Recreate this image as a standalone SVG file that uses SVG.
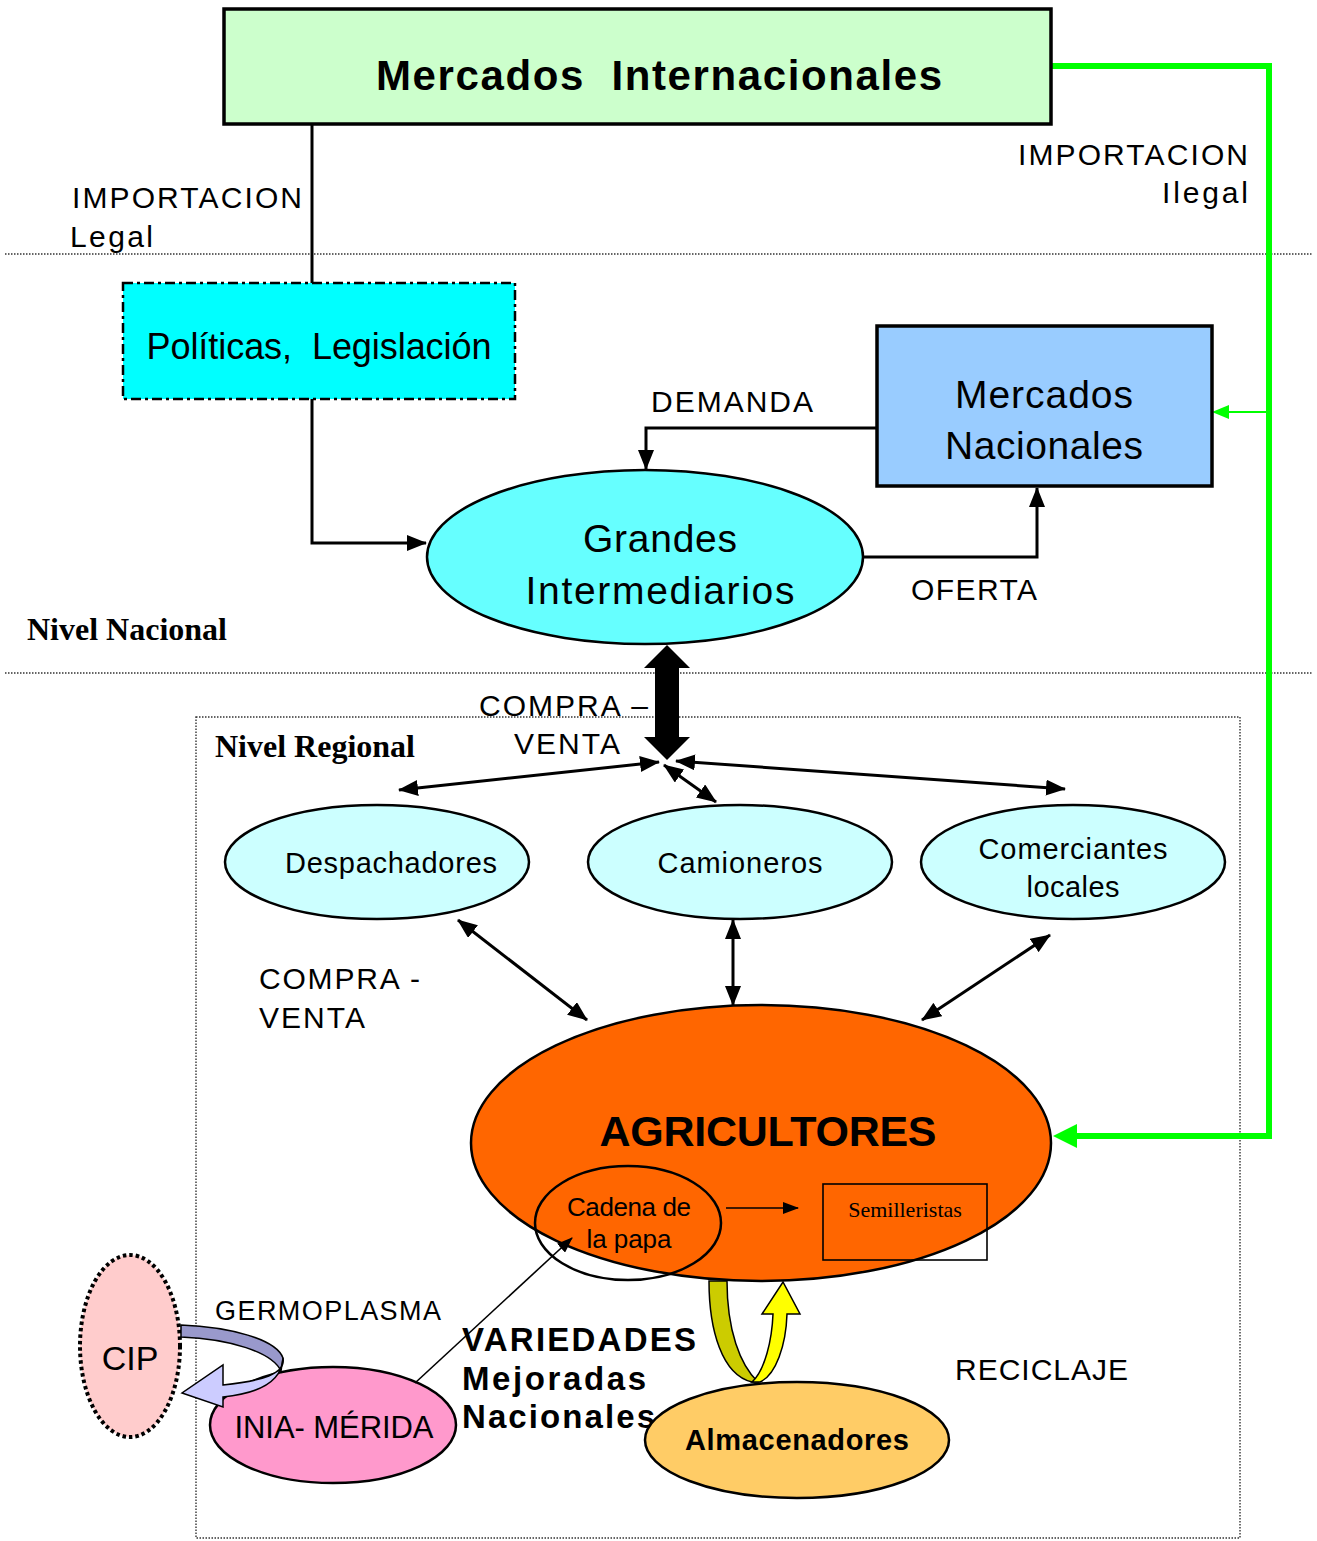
<svg xmlns="http://www.w3.org/2000/svg" width="1317" height="1541" viewBox="0 0 1317 1541">
  <style>
    .sans { font-family: "Liberation Sans", Arial, sans-serif; fill: #000; }
    .bold { font-weight: bold; }
    .serif { font-family: "Liberation Serif", "Times New Roman", serif; font-weight: bold; fill: #000; }
    .mid { text-anchor: middle; }
    .end { text-anchor: end; }
    .line { fill: none; stroke: #000; stroke-width: 3; }
    .thin { fill: none; stroke: #000; stroke-width: 1.6; }
    .node { stroke: #000; stroke-width: 2.5; }
    .dots { fill: none; stroke: #333; stroke-width: 1.4; stroke-dasharray: 1.5 1.5; }
  </style>
  <defs>
    <marker id="ah" markerUnits="userSpaceOnUse" markerWidth="20" markerHeight="16" viewBox="0 0 20 16" refX="19" refY="8" orient="auto-start-reverse">
      <path d="M0,0 L20,8 L0,16 Z" fill="#000"/>
    </marker>
    <marker id="ahs" markerUnits="userSpaceOnUse" markerWidth="16" markerHeight="12" viewBox="0 0 16 12" refX="15" refY="6" orient="auto-start-reverse">
      <path d="M0,0 L16,6 L0,12 Z" fill="#000"/>
    </marker>
  </defs>

  <rect width="1317" height="1541" fill="#fff"/>

  <!-- level separators -->
  <g id="levels">
    <line class="dots" x1="5" y1="254" x2="1313" y2="254"/>
    <line class="dots" x1="5" y1="673" x2="1313" y2="673"/>
    <rect class="dots" x="196" y="717" width="1044" height="821"/>
    <text class="serif" x="27" y="640" font-size="32">Nivel Nacional</text>
    <text class="serif" x="215" y="757" font-size="32">Nivel Regional</text>
  </g>

  <!-- connectors -->
  <g id="connectors">
    <!-- legal import through policies -->
    <line class="line" x1="312" y1="124" x2="312" y2="284"/>
    <path class="line" d="M312,399 V543 H426" marker-end="url(#ah)"/>
    <!-- demand / supply -->
    <path class="line" d="M877,428 H646 V469" marker-end="url(#ah)"/>
    <path class="line" d="M862,557 H1037 V488" marker-end="url(#ah)"/>
    <!-- illegal import -->
    <path d="M1051,66 H1269 V1136 H1074" fill="none" stroke="#00FF00" stroke-width="6"/>
    <path d="M1053,1136 L1077,1124 L1077,1148 Z" fill="#00FF00"/>
    <line x1="1269" y1="412" x2="1226" y2="412" stroke="#00FF00" stroke-width="2"/>
    <path d="M1212,412 L1229,405 L1229,419 Z" fill="#00FF00"/>
    <!-- compra-venta trunk -->
    <path d="M667,645 L690,668 L679,668 L679,737 L690,737 L667,760 L644,737 L655,737 L655,668 L644,668 Z" fill="#000"/>
    <line class="line" x1="659" y1="762" x2="399" y2="790" marker-start="url(#ah)" marker-end="url(#ah)"/>
    <line class="line" x1="676" y1="761" x2="1065" y2="789" marker-start="url(#ah)" marker-end="url(#ah)"/>
    <line class="line" x1="664" y1="765" x2="716" y2="802" marker-start="url(#ah)" marker-end="url(#ah)"/>
    <!-- regional trade with farmers -->
    <line class="line" x1="458" y1="920" x2="587" y2="1020" marker-start="url(#ah)" marker-end="url(#ah)"/>
    <line class="line" x1="733" y1="920" x2="733" y2="1005" marker-start="url(#ah)" marker-end="url(#ah)"/>
    <line class="line" x1="1050" y1="935" x2="922" y2="1020" marker-start="url(#ah)" marker-end="url(#ah)"/>
  </g>

  <g id="mercados-internacionales">
    <rect x="224" y="9" width="827" height="115" fill="#CCFFCC" stroke="#000" stroke-width="3.5"/>
    <text class="sans bold mid" x="659" y="90" font-size="42" textLength="566" xml:space="preserve">Mercados  Internacionales</text>
  </g>

  <g id="importacion-legal">
    <text class="sans" x="72" y="208" font-size="30" textLength="230">IMPORTACION</text>
    <text class="sans" x="70" y="247" font-size="30" textLength="83">Legal</text>
  </g>

  <g id="importacion-ilegal">
    <text class="sans" x="1018" y="165" font-size="30" textLength="230">IMPORTACION</text>
    <text class="sans end" x="1248" y="203" font-size="30" textLength="86">Ilegal</text>
  </g>

  <g id="politicas">
    <rect x="123" y="283" width="392" height="116" fill="#00FFFF" stroke="#000" stroke-width="2.5" stroke-dasharray="10 4 3 4"/>
    <text class="sans mid" x="319" y="359" font-size="36" textLength="345" xml:space="preserve">Políticas,  Legislación</text>
  </g>

  <g id="mercados-nacionales">
    <rect x="877" y="326" width="335" height="160" fill="#99CCFF" stroke="#000" stroke-width="3.5"/>
    <text class="sans mid" x="1044" y="408" font-size="39" textLength="178">Mercados</text>
    <text class="sans mid" x="1044" y="459" font-size="39" textLength="198">Nacionales</text>
  </g>

  <g id="demanda">
    <text class="sans" x="651" y="412" font-size="30" textLength="162">DEMANDA</text>
  </g>
  <g id="oferta">
    <text class="sans" x="911" y="600" font-size="30" textLength="126">OFERTA</text>
  </g>

  <g id="grandes-intermediarios">
    <ellipse cx="645" cy="557" rx="218" ry="87" fill="#66FFFF" class="node"/>
    <text class="sans mid" x="660" y="552" font-size="39" textLength="154">Grandes</text>
    <text class="sans mid" x="660" y="604" font-size="39" textLength="269">Intermediarios</text>
  </g>

  <g id="compra-venta-nacional">
    <text class="sans" x="479" y="716" font-size="30" textLength="169">COMPRA –</text>
    <text class="sans" x="514" y="754" font-size="30" textLength="106">VENTA</text>
  </g>

  <g id="despachadores">
    <ellipse cx="377" cy="862" rx="152" ry="57" fill="#CCFFFF" class="node"/>
    <text class="sans mid" x="391" y="873" font-size="29" textLength="212">Despachadores</text>
  </g>
  <g id="camioneros">
    <ellipse cx="740" cy="862" rx="152" ry="57" fill="#CCFFFF" class="node"/>
    <text class="sans mid" x="740" y="873" font-size="29" textLength="165">Camioneros</text>
  </g>
  <g id="comerciantes">
    <ellipse cx="1073" cy="862" rx="152" ry="57" fill="#CCFFFF" class="node"/>
    <text class="sans mid" x="1073" y="859" font-size="29" textLength="189">Comerciantes</text>
    <text class="sans mid" x="1073" y="897" font-size="29" textLength="93">locales</text>
  </g>

  <g id="compra-venta-regional">
    <text class="sans" x="259" y="989" font-size="30" textLength="161">COMPRA -</text>
    <text class="sans" x="259" y="1028" font-size="30" textLength="106">VENTA</text>
  </g>

  <g id="agricultores">
    <ellipse cx="761" cy="1143" rx="290" ry="138" fill="#FF6600" class="node"/>
    <text class="sans bold mid" x="768" y="1146" font-size="43" textLength="337">AGRICULTORES</text>
  </g>

  <g id="cadena-papa">
    <ellipse cx="628" cy="1223" rx="93" ry="57" fill="none" class="node"/>
    <text class="sans mid" x="629" y="1216" font-size="26" textLength="124">Cadena de</text>
    <text class="sans mid" x="629" y="1248" font-size="26" textLength="85">la papa</text>
  </g>
  <line class="thin" x1="726" y1="1208" x2="798" y2="1208" stroke-width="2" marker-end="url(#ahs)"/>

  <g id="semilleristas">
    <rect x="823" y="1184" width="164" height="76" fill="none" stroke="#000" stroke-width="1.6"/>
    <text x="905" y="1217" font-size="22" text-anchor="middle" font-family="Liberation Serif, Times New Roman, serif">Semilleristas</text>
  </g>

  <g id="cip">
    <ellipse cx="130" cy="1346" rx="50" ry="91" fill="#FFCCCC" stroke="#000" stroke-width="4" stroke-dasharray="3.5 3"/>
    <text class="sans mid" x="130" y="1370" font-size="34">CIP</text>
  </g>

  <g id="germoplasma">
    <text class="sans" x="215" y="1320" font-size="27" textLength="226">GERMOPLASMA</text>
  </g>

  <g id="inia-merida">
    <ellipse cx="333" cy="1425" rx="123" ry="58" fill="#FF99CC" class="node"/>
    <text class="sans mid" x="334" y="1438" font-size="31" textLength="199">INIA- MÉRIDA</text>
  </g>

  <!-- germplasm flow CIP -> INIA -->
  <path d="M181,1325 C230,1327 276,1339 283,1358 L281,1371 C272,1352 230,1339 181,1337 Z" fill="#9999CC" stroke="#000" stroke-width="1.5"/>
  <path d="M283,1358 C286,1374 262,1381 223,1385 L223,1365 L182,1393 L223,1407 L223,1397 C262,1393 282,1380 283,1358 Z" fill="#CCCCFF" stroke="#000" stroke-width="1.5"/>

  <!-- improved varieties into the potato chain -->
  <line class="thin" x1="415" y1="1383" x2="572" y2="1238" marker-end="url(#ahs)"/>

  <g id="variedades">
    <text class="sans bold" x="462" y="1351" font-size="33" textLength="234">VARIEDADES</text>
    <text class="sans bold" x="462" y="1390" font-size="33" textLength="184">Mejoradas</text>
    <text class="sans bold" x="462" y="1428" font-size="33" textLength="193">Nacionales</text>
  </g>

  <g id="almacenadores">
    <ellipse cx="797" cy="1440" rx="152" ry="58" fill="#FFCC66" class="node"/>
    <text class="sans bold mid" x="797" y="1450" font-size="29" textLength="224">Almacenadores</text>
  </g>

  <!-- recycling loop between farmers and storage -->
  <path d="M709,1281 C709,1330 722,1375 752,1382 L758,1382 C740,1365 727,1330 727,1281 Z" fill="#CCCC00" stroke="#000" stroke-width="1.5"/>
  <path d="M752,1382 C765,1370 772,1340 773,1314 L762,1314 L783,1282 L800,1314 L787,1314 C786,1345 776,1375 760,1382 Z" fill="#FFFF00" stroke="#000" stroke-width="1.5"/>

  <g id="reciclaje">
    <text class="sans" x="955" y="1380" font-size="30" textLength="173">RECICLAJE</text>
  </g>
</svg>
